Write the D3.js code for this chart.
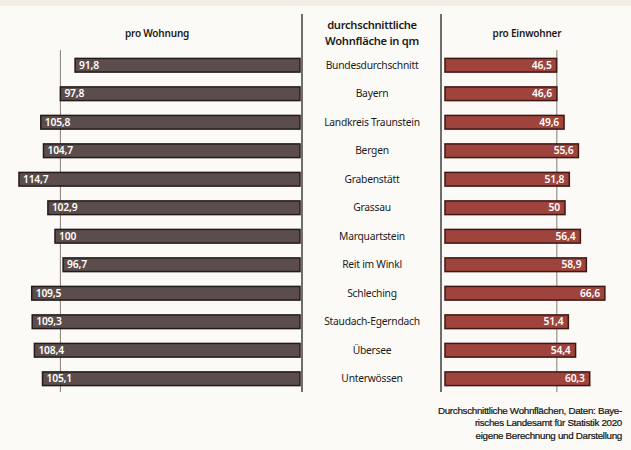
<!DOCTYPE html>
<html><head><meta charset="utf-8">
<script src="https://cdn.jsdelivr.net/npm/d3@7"></script>
<style>html,body{margin:0;padding:0;background:#f2eee5;}svg{display:block;}</style>
</head><body>
<svg id="c" width="631" height="450"></svg>
<script>
const categories = ["Bundesdurchschnitt","Bayern","Landkreis Traunstein","Bergen","Grabenstätt","Grassau","Marquartstein","Reit im Winkl","Schleching","Staudach-Egerndach","Übersee","Unterwössen"];
const proWohnung = [91.8,97.8,105.8,104.7,114.7,102.9,100,96.7,109.5,109.3,108.4,105.1];
const proEinwohner = [46.5,46.6,49.6,55.6,51.8,50,56.4,58.9,66.6,51.4,54.4,60.3];
const titleLeft = "pro Wohnung";
const titleCenter = ["durchschnittliche","Wohnfläche in qm"];
const titleRight = "pro Einwohner";
const footnote = ["Durchschnittliche Wohnflächen, Daten: Baye-","risches Landesamt für Statistik 2020","eigene Berechnung und Darstellung"];
const refIndex = 1; // Bayern reference line

const svg = d3.select("#c");
svg.append("rect").attr("x",0).attr("y",6).attr("width",631).attr("height",444).attr("fill","#fbfaf6");

const fmt = v => String(v).replace(".", ",");
const font = "'Noto Sans', 'Open Sans', sans-serif";

const y = d3.scaleBand().domain(categories).range([51, 393]).paddingInner(0.52).paddingOuter(0.26);
const xL = d3.scaleLinear().domain([0, 120]).range([300, 300 - 120*2.45]);
const xR = d3.scaleLinear().domain([0, 70]).range([445, 445 + 70*2.4]);

// separators
svg.append("line").attr("x1",302).attr("x2",302).attr("y1",14).attr("y2",392).attr("stroke","#222").attr("stroke-width",1.3);
svg.append("line").attr("x1",441).attr("x2",441).attr("y1",14).attr("y2",392).attr("stroke","#222").attr("stroke-width",1.3);

// reference lines
svg.append("line").attr("x1",xL(proWohnung[refIndex])).attr("x2",xL(proWohnung[refIndex])).attr("y1",50).attr("y2",392).attr("stroke","#6a5a55").attr("stroke-width",0.8);
svg.append("line").attr("x1",xR(proEinwohner[refIndex])).attr("x2",xR(proEinwohner[refIndex])).attr("y1",50).attr("y2",392).attr("stroke","#6a5a55").attr("stroke-width",0.8);

// left bars
const gl = svg.append("g");
gl.selectAll("rect").data(categories).join("rect")
  .attr("x", (d,i) => xL(proWohnung[i]))
  .attr("y", d => y(d))
  .attr("width", (d,i) => xL(0) - xL(proWohnung[i]))
  .attr("height", y.bandwidth())
  .attr("fill","#5b4d4c").attr("stroke","#241a1a").attr("stroke-width",1.5);
gl.selectAll("text").data(categories).join("text")
  .attr("x", (d,i) => xL(proWohnung[i]) + 4)
  .attr("y", d => y(d) + y.bandwidth()/2)
  .attr("dy","0.36em")
  .attr("fill","#fff").attr("font-family",font).attr("font-size",10.3).attr("font-weight","600").attr("letter-spacing","-0.2")
  .text((d,i) => fmt(proWohnung[i]));

// right bars
const gr = svg.append("g");
gr.selectAll("rect").data(categories).join("rect")
  .attr("x", xR(0))
  .attr("y", d => y(d))
  .attr("width", (d,i) => xR(proEinwohner[i]) - xR(0))
  .attr("height", y.bandwidth())
  .attr("fill","#9e443c").attr("stroke","#3e1614").attr("stroke-width",1.5);
gr.selectAll("text").data(categories).join("text")
  .attr("x", (d,i) => xR(proEinwohner[i]) - 5)
  .attr("y", d => y(d) + y.bandwidth()/2)
  .attr("dy","0.36em").attr("text-anchor","end")
  .attr("fill","#fff").attr("font-family",font).attr("font-size",10.3).attr("font-weight","600").attr("letter-spacing","-0.2")
  .text((d,i) => fmt(proEinwohner[i]));

// category labels
svg.append("g").selectAll("text").data(categories).join("text")
  .attr("x", 372).attr("y", d => y(d) + y.bandwidth()/2).attr("dy","0.36em")
  .attr("text-anchor","middle").attr("fill","#1e1a1a").attr("font-family",font).attr("font-size",10.3).attr("letter-spacing","-0.25")
  .text(d => d);

// titles
svg.append("text").attr("x",157).attr("y",37).attr("text-anchor","middle").attr("font-family",font)
  .attr("font-size",10).attr("font-weight","600").attr("letter-spacing","-0.2").attr("fill","#1e1a1a").text(titleLeft);
svg.append("text").attr("x",527).attr("y",37).attr("text-anchor","middle").attr("font-family",font)
  .attr("font-size",10).attr("font-weight","600").attr("letter-spacing","-0.2").attr("fill","#1e1a1a").text(titleRight);
svg.append("g").selectAll("text").data(titleCenter).join("text")
  .attr("x",372).attr("y",(d,i)=>29 + i*16).attr("text-anchor","middle").attr("font-family",font)
  .attr("font-size",11.2).attr("font-weight","600").attr("letter-spacing","-0.3").attr("fill","#1e1a1a").text(d=>d);

// footnote
svg.append("g").selectAll("text").data(footnote).join("text")
  .attr("x",622).attr("y",(d,i)=>414 + i*12.3).attr("text-anchor","end")
  .attr("font-family","'Liberation Sans', Arial, sans-serif").attr("font-size",9.8).attr("letter-spacing","-0.3")
  .attr("fill","#111").attr("stroke","#111").attr("stroke-width",0.2).text(d=>d);
</script>
</body></html>
